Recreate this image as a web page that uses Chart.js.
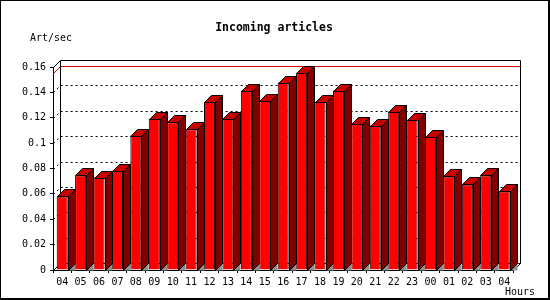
<!DOCTYPE html>
<html>
<head>
<meta charset="utf-8">
<script src="https://cdn.jsdelivr.net/npm/chart.js@4"></script>
<style>
  body { margin: 0; background: #fff; }
  canvas { display: block; }
</style>
</head>
<body>
<canvas id="myChart" width="550" height="300"></canvas>
<script>
let hours = ['04', '05', '06', '07', '08', '09', '10', '11', '12', '13', '14', '15', '16',
  '17', '18', '19', '20', '21', '22', '23', '00', '01', '02', '03', '04'];
let artPerSec = [0.0582, 0.0745, 0.0729, 0.0784, 0.106, 0.1193, 0.1165, 0.111, 0.1327, 0.1193,
  0.1414, 0.1335, 0.1477, 0.1555, 0.1327, 0.1414, 0.1154, 0.1138, 0.1249, 0.1186,
  0.1052, 0.0737, 0.0674, 0.0745, 0.0619];
let yTicks = [0, 0.02, 0.04, 0.06, 0.08, 0.1, 0.12, 0.14, 0.16];

const DEPTH = 7;
const MONO = '"DejaVu Sans Mono", "Liberation Mono", monospace';

function px(v) { return Math.round(v) + 0.5; }

const threeD = {
  id: 'threeD',
  beforeDraw(chart) {
    const ctx = chart.ctx;
    ctx.save();
    ctx.fillStyle = '#fff';
    ctx.fillRect(0, 0, chart.width, chart.height);
    ctx.restore();
  },
  beforeDatasetsDraw(chart) {
    const { ctx, chartArea: a, scales: { y } } = chart;
    const d = DEPTH;
    const L = px(a.left), R = px(a.right), T = px(a.top), B = px(a.bottom);
    ctx.save();
    ctx.lineWidth = 1;

    // dashed grid lines on the left wall and back plane
    ctx.strokeStyle = '#000';
    ctx.setLineDash([2, 3]);
    yTicks.slice(1, -1).forEach(v => {
      const yy = px(y.getPixelForValue(v));
      ctx.beginPath();
      ctx.moveTo(L, yy);
      ctx.lineTo(L + d, yy - d);
      ctx.lineTo(R + d, yy - d);
      ctx.stroke();
    });
    ctx.setLineDash([]);

    // max line
    const ym = px(y.getPixelForValue(Math.max(...artPerSec)));
    ctx.strokeStyle = '#e00000';
    ctx.beginPath();
    ctx.moveTo(L, ym);
    ctx.lineTo(L + d, ym - d);
    ctx.lineTo(R + d, ym - d);
    ctx.stroke();

    // frame of the box
    ctx.strokeStyle = '#000';
    ctx.beginPath();
    ctx.moveTo(L + d, B - d);
    ctx.lineTo(L + d, T - d);
    ctx.lineTo(R + d, T - d);
    ctx.lineTo(R + d, B - d);
    ctx.lineTo(L + d, B - d);
    ctx.moveTo(L, T);
    ctx.lineTo(L + d, T - d);
    ctx.moveTo(L, B);
    ctx.lineTo(L + d, B - d);
    ctx.moveTo(R, B);
    ctx.lineTo(R + d, B - d);
    ctx.stroke();
    ctx.restore();
  },
  afterDatasetsDraw(chart) {
    const ctx = chart.ctx;
    const d = DEPTH;
    ctx.save();
    ctx.lineWidth = 1;
    ctx.strokeStyle = '#000';
    chart.getDatasetMeta(0).data.forEach(bar => {
      const p = bar.getProps(['x', 'y', 'base', 'width'], true);
      const l = px(p.x - p.width / 2), r = px(p.x + p.width / 2);
      const t = px(p.y), b = px(p.base);
      // floor shadow
      ctx.fillStyle = '#909090';
      ctx.beginPath();
      ctx.moveTo(r, b);
      ctx.lineTo(r + d, b - d);
      ctx.lineTo(r + d, b);
      ctx.closePath();
      ctx.fill();
      // side
      ctx.fillStyle = '#800000';
      ctx.beginPath();
      ctx.moveTo(r, t);
      ctx.lineTo(r + d, t - d);
      ctx.lineTo(r + d, b - d);
      ctx.lineTo(r, b);
      ctx.closePath();
      ctx.fill();
      ctx.stroke();
      // top
      ctx.fillStyle = '#c80000';
      ctx.beginPath();
      ctx.moveTo(l, t);
      ctx.lineTo(l + d, t - d);
      ctx.lineTo(r + d, t - d);
      ctx.lineTo(r, t);
      ctx.closePath();
      ctx.fill();
      ctx.stroke();
    });
    ctx.restore();
  },
  afterDraw(chart) {
    const ctx = chart.ctx;
    ctx.save();
    ctx.fillStyle = '#000';
    ctx.textBaseline = 'middle';
    ctx.font = 'bold 11.5px ' + MONO;
    ctx.textAlign = 'center';
    ctx.fillText('Incoming articles', 274, 28);
    ctx.font = '10px ' + MONO;
    ctx.textAlign = 'left';
    ctx.fillText('Art/sec', 30, 38);
    ctx.textAlign = 'right';
    ctx.fillText('Hours', 535, 292);
    // outer frame: thin top/left, heavier right/bottom
    ctx.fillRect(0, 0, 550, 1);
    ctx.fillRect(0, 0, 1, 300);
    ctx.fillRect(548, 0, 2, 300);
    ctx.fillRect(0, 298, 550, 2);
    ctx.restore();
  }
};

Chart.defaults.font.family = MONO;
Chart.defaults.font.size = 10;
Chart.defaults.color = '#000';

let ctx = document.getElementById('myChart').getContext('2d');
let myChart = new Chart(ctx, {
  type: 'bar',
  data: {
    labels: hours,
    datasets: [{
      data: artPerSec,
      backgroundColor: '#ff0000',
      borderColor: '#000',
      borderWidth: 1,
      borderSkipped: 'start',
      barPercentage: 0.6,
      categoryPercentage: 1
    }]
  },
  options: {
    responsive: false,
    animation: false,
    layout: {
      padding: { left: 0, top: 67, right: 36.6, bottom: 0 }
    },
    plugins: {
      legend: { display: false },
      tooltip: { enabled: false }
    },
    scales: {
      x: {
        grid: { drawOnChartArea: false, tickLength: 3, color: '#000', offset: true },
        border: { display: true, color: '#000' },
        ticks: { autoSkip: false, maxRotation: 0, padding: 3 },
        afterFit: (scale) => { scale.height = 30; }
      },
      y: {
        min: 0,
        max: 0.16,
        grid: { drawOnChartArea: false, tickLength: 3, color: '#000' },
        border: { display: true, color: '#000' },
        ticks: {
          stepSize: 0.02,
          padding: 4,
          callback: (v) => String(Math.round(v * 100) / 100)
        },
        afterFit: (scale) => { scale.width = 53; }
      }
    }
  },
  plugins: [threeD]
});
</script>
</body>
</html>
